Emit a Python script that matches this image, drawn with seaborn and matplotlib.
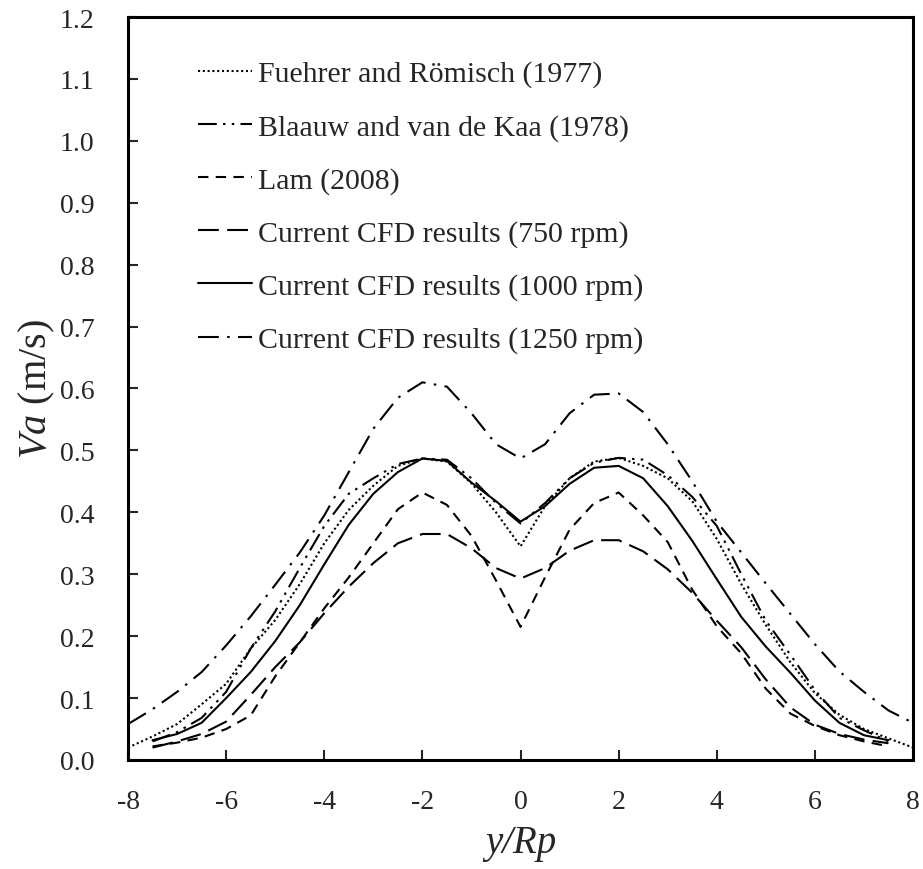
import numpy as np
import pandas as pd
import matplotlib
matplotlib.use("Agg")
import matplotlib.pyplot as plt
import seaborn as sns

# y/Rp grid (step 0.5) and velocity readings for each series
x_full = np.arange(-8, 8.01, 0.5)
x_inner = np.arange(-7.5, 7.51, 0.5)

fuehrer = [0.020, 0.038, 0.058, 0.090, 0.123, 0.180, 0.226, 0.284, 0.350, 0.404,
           0.443, 0.475, 0.487, 0.482, 0.447, 0.400, 0.345, 0.410, 0.455, 0.482,
           0.488, 0.475, 0.455, 0.418, 0.357, 0.284, 0.218, 0.158, 0.108, 0.073,
           0.050, 0.035, 0.020]
blaauw = [0.030, 0.045, 0.068, 0.110, 0.180, 0.240, 0.310, 0.378, 0.430, 0.455,
          0.478, 0.487, 0.485, 0.455, 0.415, 0.382, 0.415, 0.455, 0.480, 0.488,
          0.485, 0.460, 0.425, 0.378, 0.300, 0.225, 0.170, 0.113, 0.068, 0.048,
          0.030]
lam = [0.022, 0.028, 0.036, 0.050, 0.072, 0.135, 0.190, 0.245, 0.295, 0.350,
       0.405, 0.432, 0.412, 0.362, 0.290, 0.215, 0.295, 0.372, 0.415, 0.432,
       0.395, 0.352, 0.275, 0.216, 0.172, 0.115, 0.075, 0.055, 0.040, 0.030,
       0.022]
cfd_750 = [0.020, 0.030, 0.042, 0.062, 0.105, 0.150, 0.190, 0.237, 0.280, 0.318,
           0.350, 0.365, 0.365, 0.342, 0.310, 0.293, 0.310, 0.338, 0.355, 0.355,
           0.337, 0.308, 0.270, 0.225, 0.182, 0.130, 0.085, 0.057, 0.042, 0.033,
           0.027]
cfd_1000 = [0.032, 0.042, 0.060, 0.100, 0.142, 0.192, 0.250, 0.316, 0.380, 0.430,
            0.465, 0.487, 0.483, 0.448, 0.418, 0.385, 0.410, 0.446, 0.472, 0.475,
            0.455, 0.410, 0.354, 0.292, 0.231, 0.183, 0.141, 0.096, 0.060, 0.040,
            0.032]
cfd_1250 = [0.058, 0.082, 0.110, 0.142, 0.185, 0.232, 0.283, 0.335, 0.395, 0.465,
            0.535, 0.585, 0.610, 0.603, 0.560, 0.510, 0.487, 0.510, 0.560, 0.590,
            0.592, 0.562, 0.510, 0.450, 0.385, 0.335, 0.285, 0.236, 0.187, 0.143,
            0.110, 0.080, 0.060]

labels = ["Fuehrer and Römisch (1977)", "Blaauw and van de Kaa (1978)", "Lam (2008)",
          "Current CFD results (750 rpm)", "Current CFD results (1000 rpm)",
          "Current CFD results (1250 rpm)"]

series = [
    (x_full, fuehrer, (0, (1, 1.3))),
    (x_inner, blaauw, (0, (9, 3, 1.2, 3, 1.2, 3))),
    (x_inner, lam, (0, (5, 3.5))),
    (x_inner, cfd_750, (0, (10, 4))),
    (x_inner, cfd_1000, "-"),
    (x_full, cfd_1250, (0, (10, 4, 1.2, 4))),
]

sns.set_style("ticks")
plt.rcParams["font.family"] = ["Liberation Serif", "DejaVu Serif"]
plt.rcParams["mathtext.fontset"] = "custom"
plt.rcParams["mathtext.rm"] = "Liberation Serif"
plt.rcParams["mathtext.it"] = "Liberation Serif:italic"

fig = plt.figure(figsize=(9.23, 8.7), dpi=100)
ax = fig.add_axes([0.1387, 0.1253, 0.8505, 0.854])

for (xs, ys, ls), lab in zip(series, labels):
    df = pd.DataFrame({"x": xs, "v": ys})
    sns.lineplot(data=df, x="x", y="v", ax=ax, color="black", linestyle=ls,
                 linewidth=1.5, label=lab)

ax.set_xlim(-8, 8)
ax.set_ylim(0, 1.2)
ax.set_xticks(np.arange(-8, 9, 2))
ax.set_yticks(np.arange(0, 1.21, 0.1))
ax.set_xticklabels([str(v) for v in range(-8, 9, 2)])
ax.set_yticklabels([f"{v:.1f}" for v in np.arange(0, 1.21, 0.1)])
ax.tick_params(direction="in", length=7, width=1.5, labelsize=20)
ax.tick_params(axis="x", pad=21)
ax.tick_params(axis="y", pad=24)
for sp in ax.spines.values():
    sp.set_linewidth(2.2)
    sp.set_color("black")

ax.set_xlabel("y/Rp", fontsize=28, fontstyle="italic", labelpad=7)
ax.set_ylabel(r"$\mathit{Va}$ (m/s)", fontsize=29, labelpad=2)

ax.legend(loc="upper left", bbox_to_anchor=(0.0745, 0.958), frameon=False,
          fontsize=21.5, handlelength=1.8, handletextpad=0.2, labelspacing=0.87,
          borderaxespad=0)

fig.savefig("out.png", dpi=100)
